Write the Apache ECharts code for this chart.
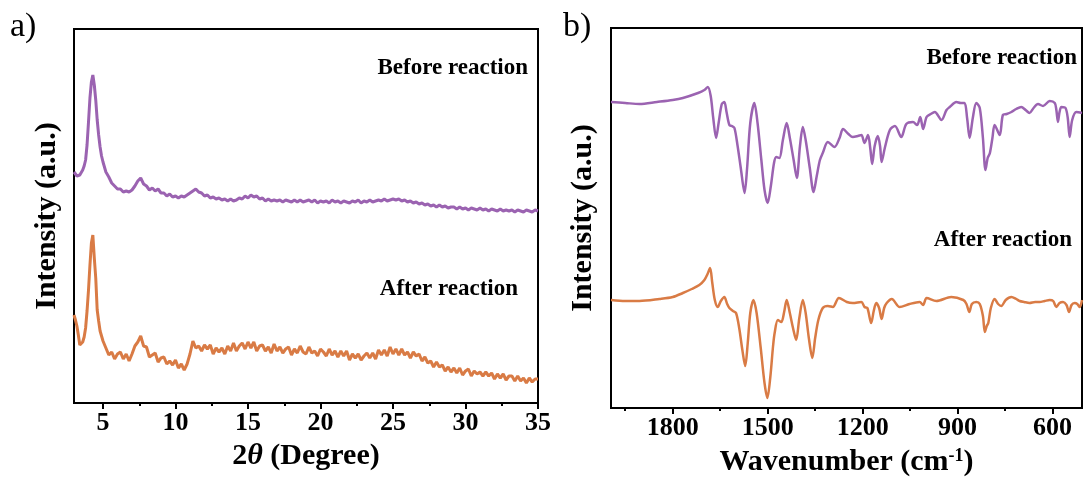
<!DOCTYPE html>
<html>
  <head>
    <meta charset="utf-8">
    <title>XRD / FTIR</title>
    <script src="https://cdn.jsdelivr.net/npm/echarts@6/dist/echarts.min.js"></script>
  </head>
  <body style="margin:0">
    <div id="main" style="width: 1086px;height:483px;"></div>
    <script type="text/javascript">
      // a) XRD, 2theta sampling and intensities (a.u.)
      const twoTheta = [
        3.0, 3.1, 3.2, 3.3, 3.4, 3.5, 3.6, 3.7, 3.8, 3.9, 4.0, 4.1, 4.2, 4.3, 4.4, 4.5, 4.6, 4.7, 4.8, 4.9, 5.0,
        5.2, 5.4, 5.6, 5.8, 6.0, 6.2, 6.4, 6.6, 6.8, 7.0,
        7.2, 7.4, 7.6, 7.8, 8.0, 8.2, 8.4, 8.6, 8.8, 9.0,
        9.2, 9.4, 9.6, 9.8, 10.0, 10.2, 10.4, 10.6, 10.8, 11.0,
        11.2, 11.4, 11.6, 11.8, 12.0, 12.2, 12.4, 12.6, 12.8, 13.0,
        13.2, 13.4, 13.6, 13.8, 14.0, 14.2, 14.4, 14.6, 14.8, 15.0,
        15.2, 15.4, 15.6, 15.8, 16.0, 16.2, 16.4, 16.6, 16.8, 17.0,
        17.2, 17.4, 17.6, 17.8, 18.0, 18.2, 18.4, 18.6, 18.8, 19.0,
        19.2, 19.4, 19.6, 19.8, 20.0, 20.2, 20.4, 20.6, 20.8, 21.0,
        21.2, 21.4, 21.6, 21.8, 22.0, 22.2, 22.4, 22.6, 22.8, 23.0,
        23.2, 23.4, 23.6, 23.8, 24.0, 24.2, 24.4, 24.6, 24.8, 25.0,
        25.2, 25.4, 25.6, 25.8, 26.0, 26.2, 26.4, 26.6, 26.8, 27.0,
        27.2, 27.4, 27.6, 27.8, 28.0, 28.2, 28.4, 28.6, 28.8, 29.0,
        29.2, 29.4, 29.6, 29.8, 30.0, 30.2, 30.4, 30.6, 30.8, 31.0,
        31.2, 31.4, 31.6, 31.8, 32.0, 32.2, 32.4, 32.6, 32.8, 33.0,
        33.2, 33.4, 33.6, 33.8, 34.0, 34.2, 34.4, 34.6, 34.8, 35.0
      ];
      const xrdBefore = [
        231, 229, 227, 227, 228, 230, 233, 237, 243, 258, 281, 305, 321, 328, 318, 303, 283, 268, 256, 247, 241,
        231, 226, 220, 217, 214, 214, 211, 212, 211, 213,
        217, 222, 225, 219, 217, 213, 215, 212, 214, 210,
        210, 207, 209, 206, 207, 205, 207, 206, 208, 210,
        212, 214, 211, 210, 207, 208, 205, 206, 204, 205,
        203, 204, 202, 204, 202, 203, 205, 204, 207, 205,
        208, 206, 207, 204, 205, 202, 204, 202, 203, 202,
        203, 201, 203, 202, 201, 203, 201, 203, 201, 202,
        203, 201, 203, 200, 202, 201, 202, 200, 203, 201,
        202, 200, 202, 201, 200, 202, 201, 203, 200, 202,
        201, 203, 201, 202, 203, 202, 204, 202, 203, 204,
        203, 204, 202, 203, 201, 202, 200, 201, 199, 200,
        198, 199, 197, 198, 196, 198, 196, 197, 195, 196,
        196, 194, 196, 194, 195, 193, 195, 194, 193, 195,
        193, 194, 192, 194, 193, 192, 194, 192, 193, 192,
        193, 191, 193, 192, 191, 193, 192, 191, 193, 192
      ];
      const xrdAfter = [
        88, 83, 77, 68, 58, 56, 61, 66, 75, 92, 113, 138, 160, 168, 145, 125, 93, 82, 72, 67, 62,
        55, 48, 51, 44, 49, 51, 44, 49, 42, 49,
        57, 61, 67, 57, 56, 46, 48, 50, 41, 45,
        46, 39, 42, 38, 43, 35, 39, 33, 39, 49,
        62, 55, 57, 52, 58, 54, 58, 49, 55, 51,
        55, 49, 57, 52, 60, 52, 57, 60, 54, 61,
        55, 61, 52, 57, 58, 52, 56, 50, 59, 52,
        56, 50, 54, 56, 48, 54, 50, 57, 51, 49,
        56, 50, 52, 47, 54, 51, 47, 54, 48, 52,
        46, 52, 47, 52, 43, 49, 45, 49, 43, 47,
        50, 45, 50, 44, 53, 48, 53, 47, 56, 49,
        54, 48, 54, 48, 51, 45, 51, 47, 49, 42,
        46, 40, 42, 36, 41, 36, 38, 32, 36, 31,
        35, 30, 35, 28, 32, 34, 27, 32, 29, 31,
        27, 31, 27, 30, 24, 29, 25, 29, 23, 27,
        27, 22, 27, 22, 25, 20, 25, 21, 24, 24
      ];
      const xrdTicks = [5, 10, 15, 20, 25, 30, 35];
      const xrdMinor = [7.5, 12.5, 17.5, 22.5, 27.5, 32.5];

      // b) FTIR, wavenumber (cm-1) and transmittance (a.u.)
      const wnBefore = [
        1995, 1950, 1905, 1850, 1800, 1768, 1720, 1700, 1689, 1680, 1672, 1663, 1655, 1645, 1637, 1630,
        1621, 1613, 1605, 1595, 1585, 1573, 1565, 1555, 1542, 1532, 1520, 1510, 1500, 1490, 1480, 1473,
        1463, 1452, 1440, 1430, 1418, 1408, 1398, 1389, 1380, 1367, 1355, 1345, 1335, 1326, 1310, 1289,
        1273, 1262, 1245, 1231, 1215, 1204, 1194, 1183, 1176, 1170, 1162, 1152, 1145, 1140, 1130, 1114,
        1098, 1078, 1062, 1041, 1028, 1018, 1009, 998, 985, 972, 951, 935, 925, 904, 890, 878,
        870, 862, 852, 841, 830, 820, 812, 805, 798, 790, 783, 767, 757, 745, 730, 715,
        699, 685, 673, 660, 646, 630, 609, 593, 588, 583, 578, 572, 559, 552, 546, 538,
        525, 507
      ];
      const irBefore = [
        306, 305, 304, 306, 308, 310, 315, 318, 321, 312, 290, 270, 285, 304, 306, 296,
        283, 282, 280, 262, 240, 215, 240, 285, 305, 285, 248, 218, 205, 222, 245, 251,
        250, 268, 285, 270, 248, 230, 262, 281, 268, 240, 216, 232, 248, 255, 266, 261,
        270, 279, 274, 271, 272, 273, 265, 273, 260, 244, 262, 272, 262, 246, 260, 278,
        282, 271, 284, 286, 283, 291, 279, 291, 294, 296, 288, 298, 301, 306, 305, 305,
        290, 270, 290, 305, 300, 270, 238, 250, 255, 270, 283, 273, 293, 294, 296, 299,
        301, 298, 295, 300, 304, 302, 307, 305, 298, 286, 296, 301, 300, 290, 271, 288,
        296, 295
      ];
      const wnAfter = [
        1995, 1950, 1905, 1842, 1800, 1768, 1740, 1716, 1700, 1690, 1682, 1675, 1667, 1658, 1648, 1637,
        1628, 1621, 1610, 1600, 1590, 1580, 1571, 1563, 1555, 1545, 1535, 1522, 1510, 1501, 1492, 1483,
        1478, 1468, 1457, 1448, 1440, 1430, 1420, 1410, 1400, 1389, 1380, 1370, 1359, 1350, 1340, 1326,
        1310, 1294, 1275, 1250, 1231, 1204, 1194, 1185, 1173, 1165, 1157, 1148, 1140, 1132, 1124, 1108,
        1083, 1052, 1020, 1009, 998, 967, 920, 882, 872, 863, 855, 841, 830, 820, 814, 808,
        803, 795, 783, 772, 762, 748, 730, 715, 704, 690, 673, 655, 641, 625, 609, 598,
        588, 578, 567, 556, 548, 540, 530, 522, 514, 507
      ];
      const irAfter = [
        108, 107, 107, 109, 111, 115, 119, 123, 128, 134, 140, 125, 108, 101, 107, 111,
        104, 100, 97, 95, 80, 58, 42, 65, 95, 108, 95, 60, 25, 10, 30, 62,
        75, 88, 86, 96, 108, 95, 80, 68, 90, 108, 95, 70, 50, 70, 88, 100,
        102, 101, 110, 106, 105, 106, 101, 100, 85, 97, 105, 100, 89, 100, 105, 109,
        101, 104, 106, 103, 110, 107, 111, 108, 104, 96, 104, 106, 104, 92, 76, 82,
        85, 100, 109, 104, 102, 108, 111, 109, 107, 106, 105, 106, 106, 107, 108, 107,
        101, 105, 106, 103, 96, 103, 105, 104, 101, 108
      ];
      const irTicks = [1800, 1500, 1200, 900, 600];
      const irMinor = [1950, 1650, 1350, 1050, 750];

      const serif = "'Liberation Serif', 'Times New Roman', serif";
      const purple = '#9b63b1';
      const orange = '#d97b45';

      function pairs(xs, ys) {
        return xs.map((x, i) => [x, ys[i]]);
      }

      const labelStyle = {
        fontFamily: serif, fontWeight: 'bold', fontSize: 26, color: '#000', margin: 7,
        formatter: v => String(v)
      };
      const nameStyle = { fontFamily: serif, fontWeight: 'bold', fontSize: 30, color: '#000' };
      const blackLine = { show: true, onZero: false, lineStyle: { color: '#000', width: 2 } };

      var myChart = echarts.init(document.getElementById('main'));

      var option = {
        animation: false,
        backgroundColor: '#fff',
        grid: [
          { left: 74, right: 548, top: 29, bottom: 80, show: true, borderColor: '#000', borderWidth: 2 },
          { left: 611, right: 4, top: 28, bottom: 75, show: true, borderColor: '#000', borderWidth: 2 }
        ],
        xAxis: [
          {
            gridIndex: 0, type: 'value', min: 3, max: 35,
            axisLine: blackLine,
            axisTick: { show: true, customValues: xrdTicks, length: 6, lineStyle: { color: '#000', width: 2 } },
            axisLabel: Object.assign({ customValues: xrdTicks }, labelStyle),
            splitLine: { show: false },
            name: '2{it|θ} (Degree)', nameLocation: 'middle', nameGap: 38,
            nameTextStyle: Object.assign({
              rich: { it: { fontFamily: serif, fontWeight: 'bold', fontStyle: 'italic', fontSize: 30, color: '#000' } }
            }, nameStyle)
          },
          {
            gridIndex: 0, type: 'value', min: 3, max: 35, position: 'bottom',
            axisLine: { show: false },
            axisTick: { show: true, customValues: xrdMinor, length: 3, lineStyle: { color: '#000', width: 2 } },
            axisLabel: { show: false, customValues: xrdMinor },
            splitLine: { show: false }
          },
          {
            gridIndex: 1, type: 'value', min: 507, max: 1995, inverse: true,
            axisLine: blackLine,
            axisTick: { show: true, customValues: irTicks, length: 6, lineStyle: { color: '#000', width: 2 } },
            axisLabel: Object.assign({ customValues: irTicks }, labelStyle),
            splitLine: { show: false },
            name: 'Wavenumber (cm{sup|-1})', nameLocation: 'middle', nameGap: 39,
            nameTextStyle: Object.assign({
              rich: { sup: { fontFamily: serif, fontWeight: 'bold', fontSize: 18, color: '#000', verticalAlign: 'top', lineHeight: 18 } }
            }, nameStyle)
          },
          {
            gridIndex: 1, type: 'value', min: 507, max: 1995, inverse: true, position: 'bottom',
            axisLine: { show: false },
            axisTick: { show: true, customValues: irMinor, length: 3, lineStyle: { color: '#000', width: 2 } },
            axisLabel: { show: false, customValues: irMinor },
            splitLine: { show: false }
          }
        ],
        yAxis: [
          {
            gridIndex: 0, type: 'value', min: 0, max: 374,
            axisLine: blackLine, axisTick: { show: false }, axisLabel: { show: false },
            splitLine: { show: false },
            name: 'Intensity (a.u.)', nameLocation: 'middle', nameGap: 12, nameTextStyle: nameStyle
          },
          {
            gridIndex: 1, type: 'value', min: 0, max: 380,
            axisLine: blackLine, axisTick: { show: false }, axisLabel: { show: false },
            splitLine: { show: false },
            name: 'Intensity (a.u.)', nameLocation: 'middle', nameGap: 13, nameTextStyle: nameStyle
          }
        ],
        series: [
          {
            name: 'XRD before', type: 'line', xAxisIndex: 0, yAxisIndex: 0,
            data: pairs(twoTheta, xrdBefore), showSymbol: false,
            lineStyle: { color: purple, width: 3 }
          },
          {
            name: 'XRD after', type: 'line', xAxisIndex: 0, yAxisIndex: 0,
            data: pairs(twoTheta, xrdAfter), showSymbol: false,
            lineStyle: { color: orange, width: 3 }
          },
          {
            name: 'FTIR before', type: 'line', xAxisIndex: 2, yAxisIndex: 1,
            data: pairs(wnBefore, irBefore), showSymbol: false, smooth: 0.3,
            lineStyle: { color: purple, width: 2.5 }
          },
          {
            name: 'FTIR after', type: 'line', xAxisIndex: 2, yAxisIndex: 1,
            data: pairs(wnAfter, irAfter), showSymbol: false, smooth: 0.3,
            lineStyle: { color: orange, width: 2.5 }
          }
        ],
        graphic: [
          { type: 'text', x: 10, y: 27, style: { text: 'a)', font: '34px ' + serif, fill: '#000', verticalAlign: 'middle' } },
          { type: 'text', x: 563, y: 27, style: { text: 'b)', font: '34px ' + serif, fill: '#000', verticalAlign: 'middle' } },
          { type: 'text', x: 528, y: 68, style: { text: 'Before reaction', font: 'bold 23px ' + serif, fill: '#000', align: 'right', verticalAlign: 'middle' } },
          { type: 'text', x: 518, y: 289, style: { text: 'After reaction', font: 'bold 23px ' + serif, fill: '#000', align: 'right', verticalAlign: 'middle' } },
          { type: 'text', x: 1077, y: 58, style: { text: 'Before reaction', font: 'bold 23px ' + serif, fill: '#000', align: 'right', verticalAlign: 'middle' } },
          { type: 'text', x: 1072, y: 240, style: { text: 'After reaction', font: 'bold 23px ' + serif, fill: '#000', align: 'right', verticalAlign: 'middle' } }
        ]
      };

      myChart.setOption(option);
    </script>
  </body>
</html>
